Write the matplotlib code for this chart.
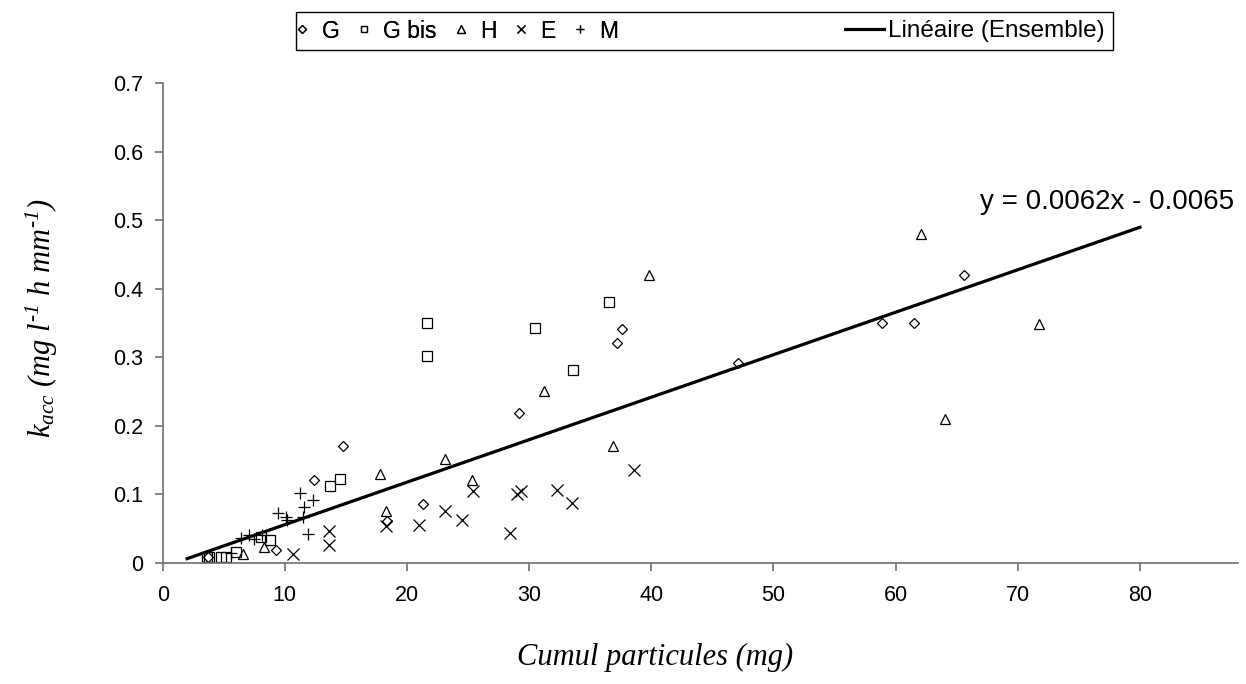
import matplotlib
matplotlib.use("Agg")
import matplotlib.pyplot as plt
from matplotlib.patches import Rectangle
import numpy as np

plt.rcParams['font.family'] = ['Liberation Sans', 'DejaVu Sans']
plt.rcParams['mathtext.fontset'] = 'custom'
plt.rcParams['mathtext.it'] = 'Liberation Serif:italic'
plt.rcParams['mathtext.rm'] = 'Liberation Serif:italic'
plt.rcParams['mathtext.cal'] = 'Liberation Serif:italic'

# ---- data ----
g_x = [3.7, 9.3, 12.4, 14.75, 18.4, 21.3, 29.2, 37.2, 37.6, 47.1, 58.9, 61.5, 65.6]
g_y = [0.008, 0.019, 0.120, 0.171, 0.061, 0.085, 0.219, 0.321, 0.341, 0.292, 0.350, 0.350, 0.420]

gbis_x = [3.6, 3.8, 4.8, 5.15, 6.0, 8.07, 8.8, 13.7, 14.5, 21.6, 21.6, 30.45, 33.6, 36.5]
gbis_y = [0.008, 0.008, 0.008, 0.008, 0.015, 0.037, 0.033, 0.112, 0.122, 0.301, 0.350, 0.342, 0.281, 0.381]

h_x = [6.6, 8.26, 17.8, 18.3, 23.1, 25.3, 31.2, 36.9, 39.8, 62.1, 64.0, 71.7]
h_y = [0.013, 0.023, 0.130, 0.076, 0.151, 0.121, 0.250, 0.170, 0.420, 0.480, 0.209, 0.348]

e_x = [10.7, 13.6, 13.6, 18.3, 21.0, 23.15, 24.5, 25.4, 28.4, 29.0, 29.3, 32.3, 33.5, 38.55]
e_y = [0.012, 0.046, 0.026, 0.053, 0.055, 0.076, 0.062, 0.105, 0.044, 0.100, 0.105, 0.106, 0.087, 0.136]

m_x = [5.6, 6.4, 7.1, 7.5, 8.1, 9.4, 10.1, 10.2, 11.2, 11.45, 11.6, 11.9, 12.3]
m_y = [0.014, 0.036, 0.040, 0.035, 0.040, 0.073, 0.067, 0.062, 0.101, 0.066, 0.081, 0.042, 0.092]

fit_slope = 0.0062
fit_intercept = -0.0065
fit_range = [2, 80]

series_labels = ['G', 'G bis', 'H', 'E', 'M']
fit_label = 'Linéaire (Ensemble)'
eq_label = 'y = 0.0062x - 0.0065'
xlabel = 'Cumul particules (mg)'
ylabel = r'$k_{acc}\ (mg\ l^{‐1}\ h\ mm^{‐1})$'
xticks = [0, 10, 20, 30, 40, 50, 60, 70, 80]
yticks = [0, 0.1, 0.2, 0.3, 0.4, 0.5, 0.6, 0.7]

# ---- figure ----
fig = plt.figure(figsize=(12.46, 6.84), dpi=100)
ax = fig.add_axes([162.7/1246, 1-562.7/684, (1237.7-162.7)/1246, (562.7-83)/684])

mk = dict(linestyle='none', markerfacecolor='none', markeredgecolor='black', color='black')
h1, = ax.plot(g_x, g_y, marker='D', markersize=5.5, markeredgewidth=0.9, **mk)
h2, = ax.plot(gbis_x, gbis_y, marker='s', markersize=7, markeredgewidth=0.9, **mk)
h3, = ax.plot(h_x, h_y, marker='^', markersize=7.5, markeredgewidth=0.9, **mk)
h4, = ax.plot(e_x, e_y, marker='x', markersize=8, markeredgewidth=0.9, **mk)
h5, = ax.plot(m_x, m_y, marker='+', markersize=9, markeredgewidth=0.9, **mk)

fx = np.array(fit_range, dtype=float)
hl, = ax.plot(fx, fit_slope*fx + fit_intercept, color='black', linewidth=2.3)

ax.text(66.9, 0.527, eq_label, fontsize=20, ha='left', va='center')

ax.set_xlim(0, 88)
ax.set_ylim(0, 0.7)
ax.set_xticks(xticks)
ax.set_yticks(yticks)
ax.set_xticklabels([str(v) for v in xticks])
ax.set_yticklabels(['0'] + ['%.1f' % v for v in yticks[1:]])
for s in ['top', 'right']:
    ax.spines[s].set_visible(False)
for s in ['left', 'bottom']:
    ax.spines[s].set_color('#707070')
    ax.spines[s].set_linewidth(1.2)
ax.tick_params(axis='both', direction='out', length=6, width=1.2, color='#707070',
               labelsize=15.5, pad=8)
ax.tick_params(axis='x', pad=10)

fig.text(655/1246, 1-657/684, xlabel, fontsize=22, ha='center', va='center',
         family='Liberation Serif', style='italic')
fig.text(42/1246, 1-318/684, ylabel, fontsize=22, ha='center', va='center', rotation=90)

# ---- legend ----
leg1 = fig.legend([h1, h2, h3, h4, h5], series_labels, ncol=5, frameon=False,
                  loc='center left', bbox_to_anchor=(291/1246, 1-31/684),
                  fontsize=16.5, handlelength=0.6, handletextpad=0.55, columnspacing=0.75,
                  markerscale=0.7, borderpad=0.2, borderaxespad=0)
leg2 = fig.legend([hl], [fit_label], frameon=False, loc='center right',
                  bbox_to_anchor=(1109/1246, 1-31/684), fontsize=17.5,
                  handlelength=1.6, handletextpad=0.15, borderpad=0.2, borderaxespad=0)
fig.add_artist(leg1)
fig.patches.append(Rectangle((296/1246, 1-50/684), (1113-296)/1246, 38/684,
                             transform=fig.transFigure, fill=False, edgecolor='black',
                             linewidth=1.0))

fig.savefig('out.png', dpi=100)
